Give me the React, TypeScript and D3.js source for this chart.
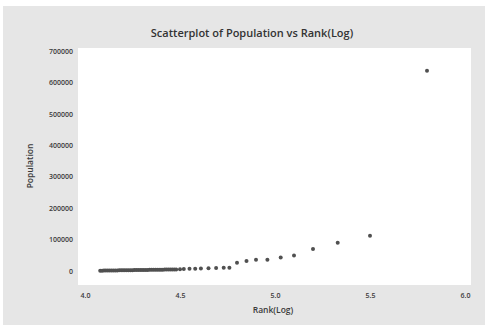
import React, { useEffect, useRef } from "react";
import * as d3 from "d3";

// dense low end of the data, then the sparse upper tail
const rankLog = [
  4.08, 4.09, 4.1, 4.11, 4.12, 4.13, 4.14, 4.15, 4.16, 4.17, 4.18, 4.19, 4.2,
  4.21, 4.22, 4.23, 4.24, 4.25, 4.26, 4.27, 4.28, 4.29, 4.3, 4.31, 4.32, 4.33,
  4.34, 4.35, 4.36, 4.37, 4.38, 4.39, 4.4, 4.41, 4.42, 4.43, 4.44, 4.45, 4.46,
  4.47, 4.48, 4.5, 4.52, 4.55, 4.58, 4.61, 4.65, 4.69, 4.73, 4.76, 4.8, 4.85,
  4.9, 4.96, 5.03, 5.1, 5.2, 5.33, 5.5, 5.8,
];
const population = [
  1000, 1100, 1200, 1300, 1400, 1500, 1600, 1700, 1800, 1900, 2000, 2100, 2200,
  2300, 2400, 2500, 2600, 2700, 2800, 2900, 3000, 3100, 3200, 3300, 3400, 3500,
  3600, 3700, 3800, 3900, 4000, 4100, 4200, 4300, 4400, 4500, 4600, 4700, 4800,
  4900, 5000, 5400, 6000, 7000, 7500, 8000, 8500, 9500, 10000, 10500, 26000,
  32000, 36000, 36000, 43000, 49000, 70000, 90000, 112000, 637000,
];
const xTicks = [4.0, 4.5, 5.0, 5.5, 6.0];
const yTicks = [0, 100000, 200000, 300000, 400000, 500000, 600000, 700000];

const W = 485;
const H = 328;
const plot = { left: 78, top: 48, right: 471, bottom: 285 };
const font = "'Open Sans', 'DejaVu Sans', sans-serif";

export default function App() {
  const svgRef = useRef<SVGSVGElement>(null);

  useEffect(() => {
    const svg = d3.select(svgRef.current);
    svg.selectAll("*").remove();

    // ---------------- frame
    svg.append("rect").attr("width", W).attr("height", H).attr("fill", "#fff");
    svg
      .append("rect")
      .attr("x", 3)
      .attr("y", 6)
      .attr("width", W - 3)
      .attr("height", 319)
      .attr("fill", "#e6e6e6");
    svg
      .append("rect")
      .attr("x", plot.left)
      .attr("y", plot.top)
      .attr("width", plot.right - plot.left)
      .attr("height", plot.bottom - plot.top)
      .attr("fill", "#fff");

    // ---------------- scales
    const x = d3.scaleLinear().domain([4.0, 6.0]).range([85, 465]);
    const y = d3.scaleLinear().domain([0, 700000]).range([271, 51]);

    // ---------------- axes
    const xAxis = svg
      .append("g")
      .attr("transform", `translate(0, ${plot.bottom})`)
      .call(
        d3
          .axisBottom(x)
          .tickValues(xTicks)
          .tickFormat(d3.format(".1f"))
          .tickSize(0)
          .tickPadding(8)
      );
    const yAxis = svg
      .append("g")
      .attr("transform", `translate(${plot.left}, 0)`)
      .call(
        d3
          .axisLeft(y)
          .tickValues(yTicks)
          .tickFormat(d3.format("d"))
          .tickSize(0)
          .tickPadding(5)
      );
    [xAxis, yAxis].forEach((g) => {
      g.attr("color", "#3a3a3a");
      g.select(".domain").remove();
      g.selectAll("text")
        .style("font-family", font)
        .style("font-size", "7px")
        .style("font-weight", 600);
    });

    // ---------------- points
    svg
      .append("g")
      .selectAll("circle")
      .data(rankLog.map((r, i) => ({ r, p: population[i] })))
      .join("circle")
      .attr("cx", (d) => x(d.r))
      .attr("cy", (d) => y(d.p))
      .attr("r", 2)
      .attr("fill", "#505050");

    // ---------------- labels
    svg
      .append("text")
      .attr("x", 252)
      .attr("y", 37)
      .attr("text-anchor", "middle")
      .attr("fill", "#333")
      .style("font-family", font)
      .style("font-size", "11px")
      .style("font-weight", 600)
      .text("Scatterplot of Population vs Rank(Log)");
    svg
      .append("text")
      .attr("x", 273)
      .attr("y", 313)
      .attr("text-anchor", "middle")
      .attr("fill", "#3a3a3a")
      .style("font-family", font)
      .style("font-size", "8.5px")
      .style("font-weight", 600)
      .text("Rank(Log)");
    svg
      .append("text")
      .attr("transform", `translate(33, 166) rotate(-90)`)
      .attr("text-anchor", "middle")
      .attr("fill", "#3a3a3a")
      .style("font-family", font)
      .style("font-size", "8.5px")
      .style("font-weight", 600)
      .text("Population");
  }, []);

  return (
    <div style={{ position: "fixed", left: 0, top: 0 }}>
      <svg ref={svgRef} width={W} height={H} style={{ display: "block" }} />
    </div>
  );
}
